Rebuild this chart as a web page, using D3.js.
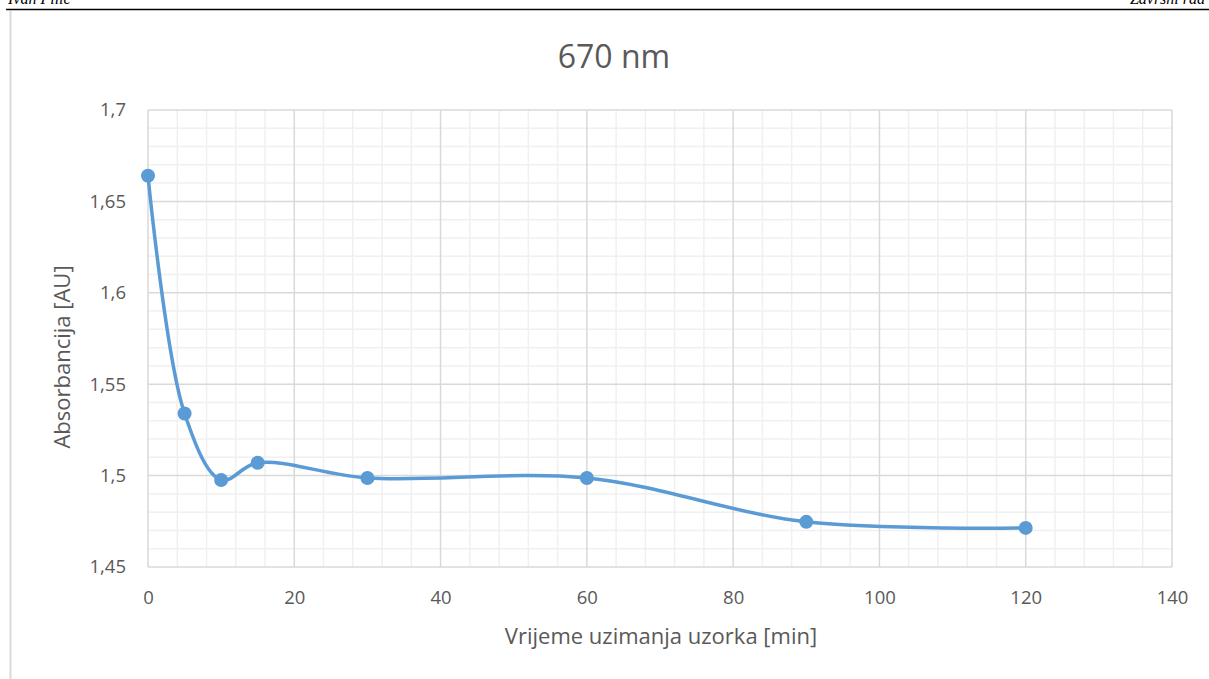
<!DOCTYPE html>
<html>
<head>
<meta charset="utf-8">
<script src="https://cdn.jsdelivr.net/npm/d3@7"></script>
<style>
  body { margin: 0; background: #fff; }
  svg { display: block; }
  .tick text { font-family: "Open Sans", sans-serif; font-size: 18.5px; fill: #595959; }
</style>
</head>
<body>
<svg width="1209" height="679"></svg>
<script>
// data
var minutes = [0, 5, 10, 15, 30, 60, 90, 120];
var absorb = [1.664, 1.534, 1.4976, 1.507, 1.4987, 1.4987, 1.4747, 1.4714];
var xTicks = [0, 20, 40, 60, 80, 100, 120, 140];
var yTicks = [1.45, 1.5, 1.55, 1.6, 1.65, 1.7];

var svg = d3.select("svg"),
    margin = {top: 110, right: 37, bottom: 112, left: 148},
    width = 1209 - margin.left - margin.right,
    height = 679 - margin.top - margin.bottom;

// page header (cut off) and chart frame
svg.append("text").attr("x", 8).attr("y", 4)
    .style("font", "italic 16px 'Liberation Serif'").text("Ivan Pilić");
svg.append("text").attr("x", 1205).attr("y", 4).attr("text-anchor", "end")
    .style("font", "italic 16px 'Liberation Serif'").text("Završni rad");
svg.append("line").attr("x1", 6).attr("x2", 1209).attr("y1", 9.5).attr("y2", 9.5)
    .attr("stroke", "#000").attr("stroke-width", 1.5);
svg.append("line").attr("x1", 10.5).attr("x2", 10.5).attr("y1", 11).attr("y2", 679)
    .attr("stroke", "#d9d9d9").attr("stroke-width", 2);

var g = svg.append("g").attr("transform", "translate(" + margin.left + "," + margin.top + ")");

var x = d3.scaleLinear().domain([0, 140]).range([0, width]),
    y = d3.scaleLinear().domain([1.45, 1.7]).range([height, 0]);

// minor grid
g.append("g").selectAll("line")
    .data(d3.range(0, 141, 4).filter(function(d) { return d % 20 != 0; }))
    .enter().append("line")
    .attr("x1", function(d) { return x(d); }).attr("x2", function(d) { return x(d); })
    .attr("y1", 0).attr("y2", height)
    .attr("stroke", "#f0f0f0").attr("stroke-width", 1.5);
g.append("g").selectAll("line")
    .data(d3.range(0, 25).filter(function(d) { return d % 5 != 0; }))
    .enter().append("line")
    .attr("x1", 0).attr("x2", width)
    .attr("y1", function(d) { return y(1.45 + d * 0.01); }).attr("y2", function(d) { return y(1.45 + d * 0.01); })
    .attr("stroke", "#f0f0f0").attr("stroke-width", 1.5);

// major grid
g.append("g").selectAll("line").data(xTicks).enter().append("line")
    .attr("x1", function(d) { return x(d); }).attr("x2", function(d) { return x(d); })
    .attr("y1", 0).attr("y2", height)
    .attr("stroke", "#d9d9d9").attr("stroke-width", 1.5);
g.append("g").selectAll("line").data(yTicks).enter().append("line")
    .attr("x1", 0).attr("x2", width)
    .attr("y1", function(d) { return y(d); }).attr("y2", function(d) { return y(d); })
    .attr("stroke", "#d9d9d9").attr("stroke-width", 1.5);

var fmt = function(d) { return String(+d.toFixed(2)).replace(".", ","); };

g.append("g")
    .attr("transform", "translate(0," + height + ")")
    .call(d3.axisBottom(x).tickValues(xTicks).tickSize(0).tickPadding(24).tickFormat(fmt))
    .call(function(s) { s.select(".domain").remove(); });

g.append("g")
    .call(d3.axisLeft(y).tickValues(yTicks).tickSize(0).tickPadding(22).tickFormat(fmt))
    .call(function(s) { s.select(".domain").remove(); });

// title and axis titles
svg.append("text").attr("x", 614).attr("y", 68).attr("text-anchor", "middle")
    .style("font-family", "'Open Sans', sans-serif").style("font-size", "32px").style("fill", "#595959")
    .text("670 nm");
svg.append("text").attr("x", 661).attr("y", 644).attr("text-anchor", "middle")
    .style("font-family", "'Open Sans', sans-serif").style("font-size", "22px").style("fill", "#595959")
    .text("Vrijeme uzimanja uzorka [min]");
svg.append("text").attr("transform", "translate(70,357) rotate(-90)").attr("text-anchor", "middle")
    .style("font-family", "'Open Sans', sans-serif").style("font-size", "22px").style("fill", "#595959")
    .text("Absorbancija [AU]");

var pts = minutes.map(function(m, i) { return [m, absorb[i]]; });

var line = d3.line()
    .x(function(d) { return x(d[0]); })
    .y(function(d) { return y(d[1]); })
    .curve(d3.curveCatmullRom.alpha(0.5));

g.append("path").datum(pts)
    .attr("d", line)
    .attr("fill", "none")
    .attr("stroke", "#5b9bd5")
    .attr("stroke-width", 3.5)
    .attr("stroke-linecap", "round");

g.append("g").selectAll("circle").data(pts).enter().append("circle")
    .attr("cx", function(d) { return x(d[0]); })
    .attr("cy", function(d) { return y(d[1]); })
    .attr("r", 7)
    .attr("fill", "#5b9bd5");
</script>
</body>
</html>
